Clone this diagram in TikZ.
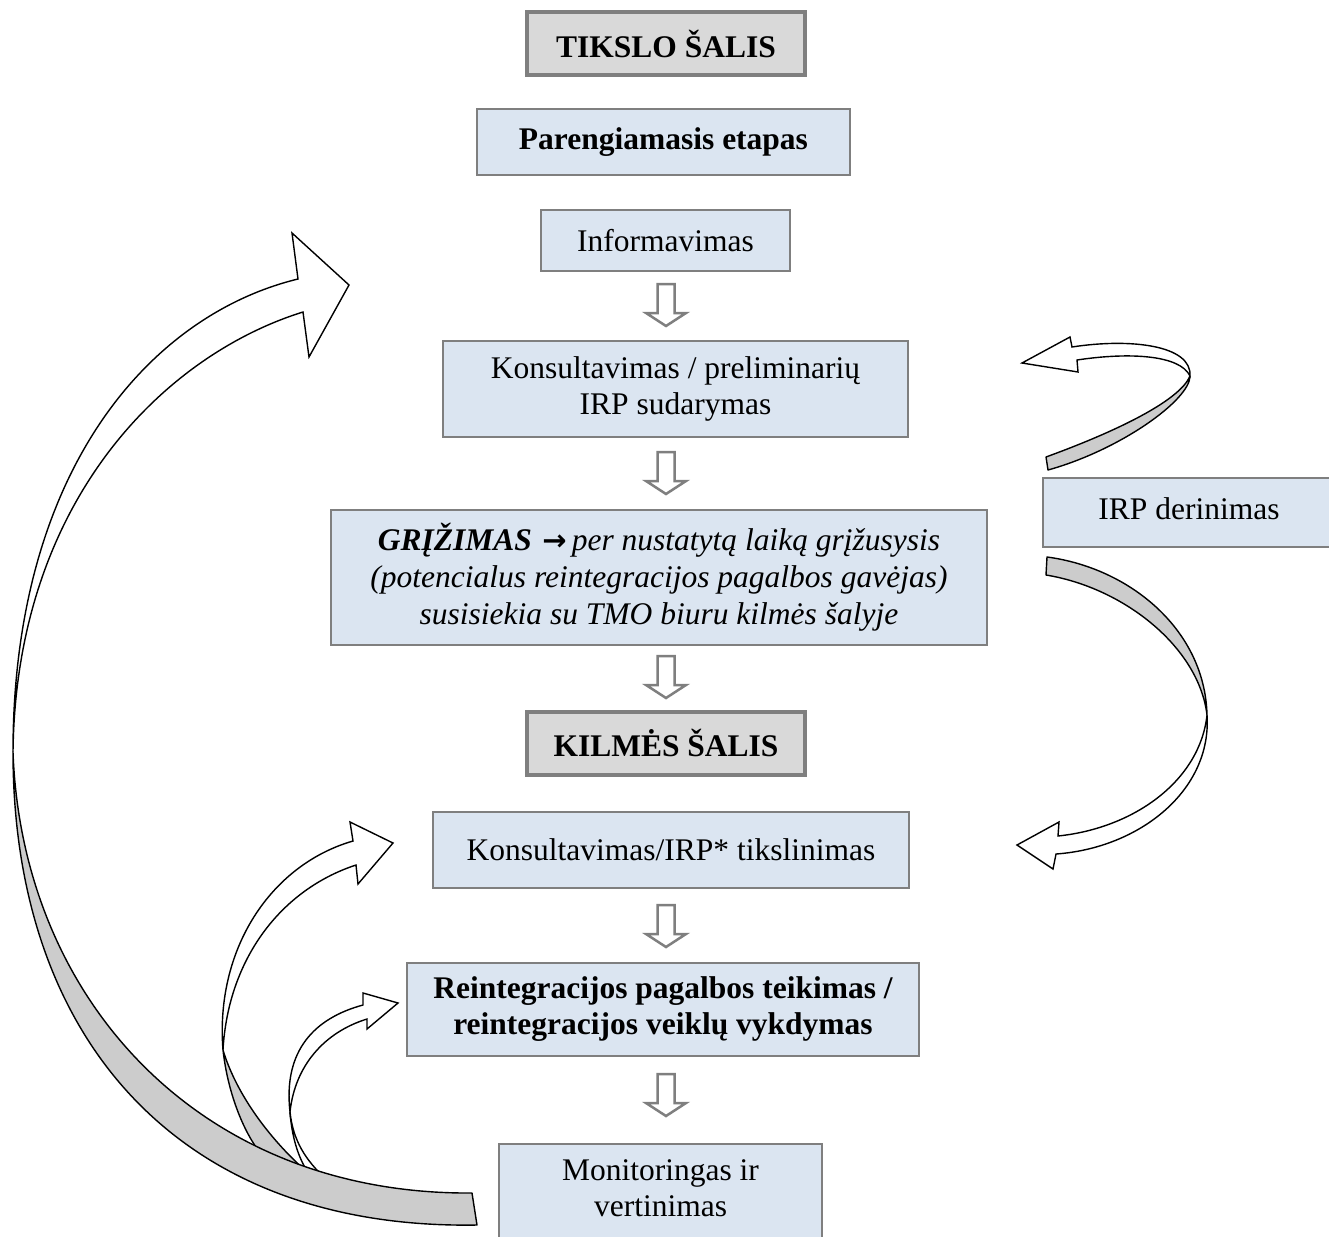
\documentclass[tikz,border=0pt]{standalone}
\usepackage{fontspec}
\setmainfont{Liberation Serif}
\newfontfamily\arrowfont{DejaVu Sans}
\definecolor{boxblue}{HTML}{DBE5F1}
\definecolor{boxgray}{HTML}{D9D9D9}
\definecolor{edgegray}{HTML}{7F7F7F}
\definecolor{ribbon}{HTML}{CCCCCC}
\tikzset{
  txt/.style={font=\fontsize{31.5}{36}\selectfont, align=center, inner sep=0pt},
  bbox/.style={txt, draw=edgegray, fill=boxblue, line width=1.5pt},
  gbox/.style={txt, draw=edgegray, fill=boxgray, line width=4pt, font=\fontsize{31.5}{36}\selectfont\bfseries},
  backside/.style={draw=black, fill=ribbon, line width=1.4pt, line join=round},
  frontside/.style={draw=black, fill=white, line width=1.4pt, line join=miter},
  darrow/.pic={\draw[line width=2.5pt, draw=edgegray, fill=white, line join=miter]
     (-8.5,0) -- (8.5,0) -- (8.5,29) -- (20,29) -- (0,42) -- (-20,29) -- (-8.5,29) -- cycle;}
}
\begin{document}
\begin{tikzpicture}[x=1pt,y=-1pt]
\useasboundingbox (0,0) rectangle (1329,1236);
\clip (0,0) rectangle (1329,1236);

% boxes
\node[gbox, minimum width=278pt, minimum height=63pt] (tikslo) at (666,43.5) {TIKSLO ŠALIS};
\node[bbox, minimum width=373pt, minimum height=66pt, font=\fontsize{31.5}{36}\selectfont\bfseries] (pareng) at (663.5,142) {Parengiamasis etapas};
\node[bbox, minimum width=249pt, minimum height=61pt] (inform) at (665.5,240.5) {Informavimas};
\node[bbox, minimum width=465pt, minimum height=96pt] (konsult) at (675.5,389) {Konsultavimas / preliminarių\\IRP sudarymas};
\node[bbox, minimum width=656pt, minimum height=135pt, font=\fontsize{31.5}{37}\selectfont\itshape] (grizimas) at (659,577.5)
  {\textbf{GRĮŽIMAS}\,\,{\arrowfont\bfseries\fontsize{29}{37}\selectfont →}\,per nustatytą laiką grįžusysis\\(potencialus reintegracijos pagalbos gavėjas)\\susisiekia su TMO biuru kilmės šalyje};
\node[gbox, minimum width=278pt, minimum height=63pt] (kilmes) at (666,743) {KILMĖS ŠALIS};
\node[bbox, minimum width=476pt, minimum height=76pt] (konsult2) at (671,850) {Konsultavimas/IRP* tikslinimas};
\node[bbox, minimum width=512pt, minimum height=93pt, font=\fontsize{31.5}{36}\selectfont\bfseries] (reint) at (663,1009.5)
  {Reintegracijos pagalbos teikimas /\\reintegracijos veiklų vykdymas};
\node[bbox, minimum width=323pt, minimum height=140pt, anchor=north] (monit) at (660.5,1143) {};
\node[txt] (monittxt) at (660.5,1188) {Monitoringas ir\\vertinimas};
\node[bbox, minimum width=400pt, minimum height=69pt, anchor=west] (irpbox) at (1042,512.5) {};
\node[txt] (irptxt) at (1189,509) {IRP derinimas};

% down block arrows
\pic at (666,284) {darrow};
\pic at (666,452) {darrow};
\pic at (666,656) {darrow};
\pic at (666,905) {darrow};
\pic at (666,1074) {darrow};

% twist points of the ribbons
\coordinate (tR1) at (1190,376);
\coordinate (tR2) at (1207,715);
\coordinate (tA) at (223,1050);
\coordinate (tB) at (290,1112);
\coordinate (tL) at (13,752);

% right upper curved arrow (IRP derinimas -> Konsultavimas)
\filldraw[backside] (1046,457) .. controls (1120,430) and (1180,400) .. (tR1)
  .. controls (1190,400) and (1120,450) .. (1048,470) -- cycle;
\filldraw[frontside] (tR1) .. controls (1192,345) and (1130,338) .. (1072,347)
  -- (1070,337) -- (1022,363) -- (1078,372) -- (1077,360)
  .. controls (1130,352) and (1180,355) .. (tR1) -- cycle;

% right lower curved arrow (IRP derinimas -> Konsultavimas/IRP*)
\filldraw[backside] (1047,557) .. controls (1130,568) and (1205,630) .. (tR2)
  .. controls (1199,648) and (1125,588) .. (1046,575) -- cycle;
\filldraw[frontside] (tR2) .. controls (1212,790) and (1140,848) .. (1056,854)
  -- (1053,869) -- (1017,845) -- (1059,822) -- (1058,836)
  .. controls (1135,828) and (1200,780) .. (tR2) -- cycle;

% small left arrow A (to Konsultavimas/IRP*)
\filldraw[backside] (tA) .. controls (228,1095) and (245,1135) .. (262,1155)
  -- (308,1173) .. controls (265,1135) and (235,1090) .. (tA) -- cycle;
\filldraw[frontside] (tA) .. controls (215,950) and (270,865) .. (353,841)
  -- (350,822) -- (393,843) -- (358,884) -- (356,865)
  .. controls (280,890) and (228,960) .. (tA) -- cycle;

% small left arrow B (to Reintegracijos)
\filldraw[frontside] (tB) .. controls (292,1140) and (300,1162) .. (310,1175)
  -- (327,1180) .. controls (305,1160) and (293,1140) .. (tB) -- cycle;
\filldraw[frontside] (tB) .. controls (283,1050) and (315,1018) .. (363,1005)
  -- (363,993) -- (398,1003) -- (367,1029) -- (367,1019)
  .. controls (325,1032) and (295,1065) .. (tB) -- cycle;

% big left arrow (Monitoringas -> Informavimas)
\filldraw[backside] (472,1193) .. controls (200,1195) and (22,1000) .. (tL)
  .. controls (13,1040) and (180,1230) .. (477,1225) -- cycle;
\filldraw[frontside] (tL) .. controls (13,470) and (150,315) .. (298,279)
  -- (292,233) -- (349,285) -- (309,357) -- (303,312)
  .. controls (165,355) and (16,500) .. (tL) -- cycle;
\end{tikzpicture}
\end{document}
